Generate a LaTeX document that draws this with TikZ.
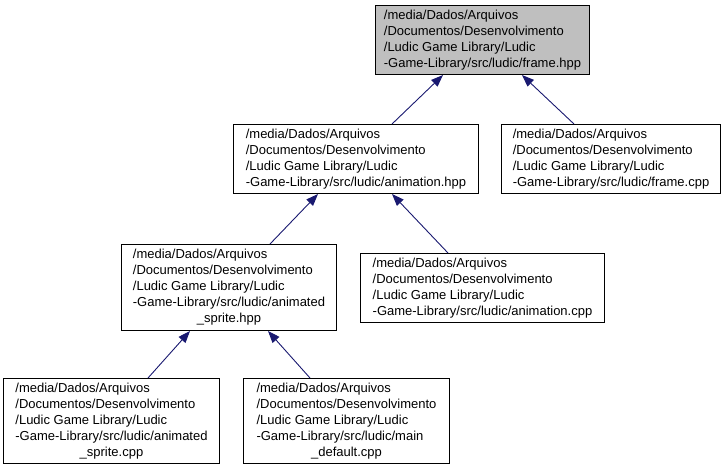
\documentclass[tikz,border=0pt]{standalone}
\usepackage{fontspec}
\setmainfont{Liberation Sans}
\definecolor{edgeblue}{HTML}{191970}
\definecolor{rootgray}{HTML}{BFBFBF}
\usetikzlibrary{calc, arrows.meta}

\newcommand{\srcpath}[1]{\begin{tabular}{@{}l@{}}/media/Dados/Arquivos\\/Documentos/Desenvolvimento\\/Ludic Game Library/Ludic\\-Game-Library/src/ludic/#1\end{tabular}}
\newcommand{\tailline}[1]{\multicolumn{1}{@{}c@{}}{#1}}

\tikzset{
  file/.style={draw=black, line width=1pt, inner sep=0pt, anchor=north west,
    font=\fontsize{13}{16}\selectfont},
  edge/.style={edgeblue, line width=0.9pt, -{Triangle[length=12pt,width=9pt]}}
}

\begin{document}
\begin{tikzpicture}[x=1pt, y=-1pt]
  \useasboundingbox (0,0) rectangle (725,469);

  % header and its includers
  \node[file, fill=rootgray, minimum width=214pt, minimum height=69pt] (fhpp) at (375,5) {\srcpath{frame.hpp}};
  \node[file, minimum width=245pt, minimum height=69pt] (ahpp) at (233,124) {\srcpath{animation.hpp}};
  \node[file, minimum width=219pt, minimum height=69pt] (fcpp) at (501,124) {\srcpath{frame.cpp}};
  \node[file, minimum width=215pt, minimum height=86pt] (ashpp) at (121,244) {\srcpath{animated\\\tailline{\_sprite.hpp}}};
  \node[file, minimum width=244pt, minimum height=69pt] (acpp) at (360,253) {\srcpath{animation.cpp}};
  \node[file, minimum width=216pt, minimum height=85pt] (ascpp) at (3,378) {\srcpath{animated\\\tailline{\_sprite.cpp}}};
  \node[file, minimum width=206pt, minimum height=85pt] (mdcpp) at (243,378) {\srcpath{main\\\tailline{\_default.cpp}}};

  \foreach \from/\dx/\to/\hx in {
    ahpp/159/fhpp/68,
    fcpp/73/fhpp/147,
    ashpp/149/ahpp/85,
    acpp/88/ahpp/159,
    ascpp/145/ashpp/69,
    mdcpp/67/ashpp/147} {
    \draw[edge] ($(\from.north west)+(\dx,0)$) -- ($(\to.south west)+(\hx,0)$);
  }
\end{tikzpicture}
\end{document}
